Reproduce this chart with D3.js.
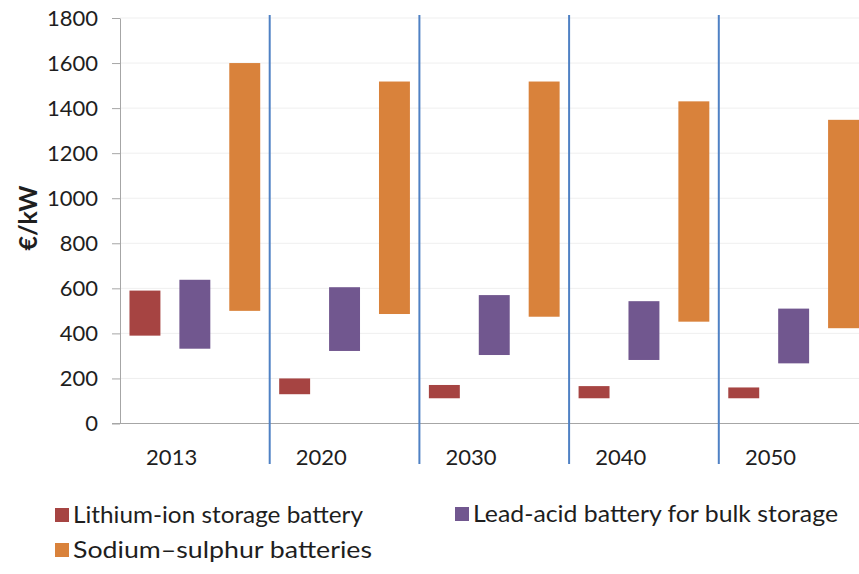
<!DOCTYPE html>
<html>
<head>
<meta charset="utf-8">
<script src="https://cdn.jsdelivr.net/npm/d3@7"></script>
<style>
  html, body { margin: 0; padding: 0; background: #fff; }
  svg { display: block; font-family: Lato, "Open Sans", sans-serif; }
</style>
</head>
<body>
<svg id="chart" width="859" height="574"></svg>
<script>
// ---- data ----
const years = ["2013", "2020", "2030", "2040", "2050"];
const seriesNames = ["Lithium-ion storage battery", "Lead-acid battery for bulk storage", "Sodium\u2013sulphur batteries"];
const seriesKeys = ["lithium", "lead", "sodium"];
const seriesColors = ["#a64442", "#71578f", "#d9823b"];
const lithiumLow  = [390, 130, 112, 112, 112];
const lithiumHigh = [590, 200, 171, 166, 160];
const leadLow     = [332, 322, 304, 282, 267];
const leadHigh    = [638, 605, 570, 543, 510];
const sodiumLow   = [500, 486, 474, 452, 423];
const sodiumHigh  = [1600, 1518, 1518, 1430, 1348];
const yTicks = [0, 200, 400, 600, 800, 1000, 1200, 1400, 1600, 1800];
const yTitle = "\u20AC/kW";

const lows = { lithium: lithiumLow, lead: leadLow, sodium: sodiumLow };
const highs = { lithium: lithiumHigh, lead: leadHigh, sodium: sodiumHigh };

// ---- layout ----
const svg = d3.select("#chart");
const plotLeft = 120, plotRight = 120 + 5 * 149.7, plotTop = 18, plotBottom = 423.5;

const x = d3.scaleBand().domain(years).range([plotLeft, plotRight]).padding(0);
const xInner = d3.scaleBand().domain(seriesKeys).range([0, x.bandwidth()])
  .paddingInner(0.38).paddingOuter(0.19).align(0.5);
const y = d3.scaleLinear().domain([0, 1800]).range([plotBottom, plotTop]);

// gridlines
svg.append("g").selectAll("line").data(yTicks.filter(d => d > 0)).join("line")
  .attr("x1", plotLeft).attr("x2", 859)
  .attr("y1", d => y(d)).attr("y2", d => y(d))
  .attr("stroke", "#efefef").attr("stroke-width", 1);

// y axis
const yAxis = d3.axisLeft(y).tickValues(yTicks).tickFormat(d3.format("d"))
  .tickSize(8).tickPadding(14).tickSizeOuter(0);
const gy = svg.append("g").attr("transform", `translate(${plotLeft},0)`).call(yAxis);
gy.select(".domain").attr("stroke", "#a6a6a6");
gy.selectAll(".tick line").attr("stroke", "#a6a6a6");
gy.selectAll(".tick text").attr("font-size", 22).attr("fill", "#1e1e1e")
  .attr("font-family", "Lato, sans-serif");

// x axis baseline
svg.append("line").attr("x1", plotLeft - 8).attr("x2", 859)
  .attr("y1", y(0)).attr("y2", y(0)).attr("stroke", "#a6a6a6").attr("stroke-width", 1);

// bars
const groups = svg.append("g").selectAll("g").data(years).join("g")
  .attr("transform", d => `translate(${x(d)},0)`);
seriesKeys.forEach((k, si) => {
  groups.append("rect")
    .attr("x", xInner(k))
    .attr("width", xInner.bandwidth())
    .attr("y", (d, i) => y(highs[k][i]))
    .attr("height", (d, i) => y(lows[k][i]) - y(highs[k][i]))
    .attr("fill", seriesColors[si]);
});

// separator lines
svg.append("g").selectAll("line").data(years.slice(1)).join("line")
  .attr("x1", d => x(d)).attr("x2", d => x(d))
  .attr("y1", 15).attr("y2", 464)
  .attr("stroke", "#4f81c4").attr("stroke-width", 2);

// year labels
svg.append("g").selectAll("text").data(years).join("text")
  .attr("x", d => x(d) + x.bandwidth() * 0.345)
  .attr("y", 465)
  .attr("text-anchor", "middle")
  .attr("font-size", 22).attr("fill", "#1e1e1e")
  .text(d => d);

// y title
svg.append("text")
  .attr("transform", `translate(37,218) rotate(-90)`)
  .attr("text-anchor", "middle")
  .attr("font-size", 25).attr("font-weight", "bold").attr("fill", "#1e1e1e")
  .text(yTitle);

// legend
const legendPos = [[55, 508], [455, 507], [55, 543]];
const legendLen = [290, 365, 299];
const lg = svg.append("g").selectAll("g").data(seriesNames).join("g")
  .attr("transform", (d, i) => `translate(${legendPos[i][0]},${legendPos[i][1]})`);
lg.append("rect").attr("width", 14).attr("height", 14)
  .attr("fill", (d, i) => seriesColors[i]);
lg.append("text").attr("x", 18).attr("y", 15)
  .attr("font-size", 24).attr("fill", "#1e1e1e")
  .attr("textLength", (d, i) => legendLen[i]).attr("lengthAdjust", "spacingAndGlyphs")
  .text(d => d);
</script>
</body>
</html>
